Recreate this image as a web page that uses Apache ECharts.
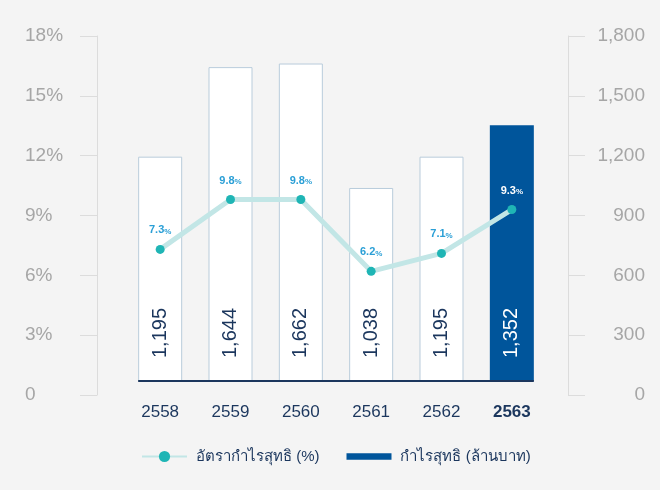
<!DOCTYPE html>
<html>
<head>
<meta charset="utf-8">
<script src="https://cdn.jsdelivr.net/npm/echarts@6/dist/echarts.min.js"></script>
<style>
  html, body { margin: 0; padding: 0; background: #f4f4f4; }
  #main { width: 660px; height: 490px; }
</style>
</head>
<body>
<div id="main"></div>
<script>
// ข้อมูล
var years = ['2558', '2559', '2560', '2561', '2562', '2563'];
var profit = [1195, 1644, 1662, 1038, 1195, 1352];   // กำไรสุทธิ (ล้านบาท)
var margin = [7.3, 9.8, 9.8, 6.2, 7.1, 9.3];         // อัตรากำไรสุทธิ (%)
var pctTicks = [0, 18, 3];
var amtTicks = [0, 1800, 300];

var bg = '#f4f4f4';
var navy = '#1b365d';
var blue = '#00559b';
var font = '"Liberation Sans", Arial, sans-serif';

var myChart = echarts.init(document.getElementById('main'));

var barData = profit.map(function (v, i) {
    if (i === profit.length - 1) {
        return { value: v, label: { color: '#ffffff' } };
    }
    return { value: v, itemStyle: { color: '#ffffff', borderColor: '#b9ccdb', borderWidth: 1 } };
});
var lineData = margin.map(function (v, i) {
    if (i === margin.length - 1) {
        return { value: v, label: { rich: { v: { color: '#ffffff' }, p: { color: '#ffffff' } } } };
    }
    return v;
});

var option = {
    backgroundColor: bg,
    textStyle: { fontFamily: font },
    grid: { left: 125, right: 113, top: 36, bottom: 95 },
    legend: {
        left: 136,
        top: 444,
        itemWidth: 45,
        itemHeight: 14,
        itemGap: 27,
        textStyle: { color: navy, fontSize: 15, padding: [0, 0, 0, 4] },
        data: [
            { name: 'อัตรากำไรสุทธิ (%)' },
            { name: 'กำไรสุทธิ (ล้านบาท)', icon: 'path://M0,0H42V6H0Z' }
        ]
    },
    xAxis: {
        type: 'category',
        data: years,
        axisLine: { show: false },
        axisTick: { show: false },
        axisLabel: {
            interval: 0,
            margin: 9,
            fontSize: 17,
            color: navy,
            formatter: function (v) {
                return v === years[years.length - 1] ? '{b|' + v + '}' : v;
            },
            rich: { b: { fontSize: 17, fontWeight: 'bold', color: navy } }
        }
    },
    yAxis: [
        {
            type: 'value',
            min: pctTicks[0], max: pctTicks[1], interval: pctTicks[2],
            position: 'left',
            offset: 28,
            splitLine: { show: false },
            axisLine: { show: true, lineStyle: { color: '#dcdcdc' } },
            axisTick: { show: true, length: 17, lineStyle: { color: '#dcdcdc' } },
            axisLabel: {
                align: 'left',
                margin: 72,
                fontSize: 19,
                color: '#a6a6a6',
                formatter: function (v) { return v === 0 ? '0' : v + '%'; }
            }
        },
        {
            type: 'value',
            min: amtTicks[0], max: amtTicks[1], interval: amtTicks[2],
            position: 'right',
            offset: 21,
            splitLine: { show: false },
            axisLine: { show: true, lineStyle: { color: '#dcdcdc' } },
            axisTick: { show: true, length: 17, lineStyle: { color: '#dcdcdc' } },
            axisLabel: {
                align: 'right',
                margin: 77,
                fontSize: 19,
                color: '#a6a6a6',
                formatter: function (v) { return v.toLocaleString('en-US'); }
            }
        }
    ],
    series: [
        {
            name: 'กำไรสุทธิ (ล้านบาท)',
            type: 'bar',
            yAxisIndex: 1,
            barWidth: 44,
            itemStyle: { color: blue },
            label: {
                show: true,
                position: 'insideBottom',
                distance: 37,
                rotate: 90,
                align: 'left',
                verticalAlign: 'middle',
                fontSize: 20,
                color: navy,
                formatter: function (p) { return p.value.toLocaleString('en-US'); }
            },
            data: barData
        },
        {
            name: 'อัตรากำไรสุทธิ (%)',
            type: 'line',
            yAxisIndex: 0,
            symbol: 'circle',
            symbolSize: 9,
            z: 5,
            lineStyle: { color: '#c2e6e6', width: 5 },
            itemStyle: { color: '#1fb5b5' },
            label: {
                show: true,
                position: 'top',
                distance: 9,
                formatter: function (p) { return '{v|' + p.value + '}{p|%}'; },
                rich: {
                    v: { fontSize: 11, fontWeight: 'bold', color: '#2a9fd6' },
                    p: { fontSize: 8, fontWeight: 'bold', color: '#2a9fd6', padding: [2, 0, 0, 0] }
                }
            },
            data: lineData
        }
    ]
};

myChart.setOption(option);

// เส้นฐานแกน X และตัดฐานแท่งกราฟ
var half = 22;
var x0 = myChart.convertToPixel({ xAxisIndex: 0 }, years[0]) - half;
var x1 = myChart.convertToPixel({ xAxisIndex: 0 }, years[years.length - 1]) + half;
var yZero = myChart.convertToPixel({ yAxisIndex: 1 }, 0);
var yBase = yZero - 14;
myChart.setOption({
    graphic: [
        {
            type: 'rect', z: 100,
            shape: { x: 100, y: yBase, width: 460, height: yZero - yBase + 1 },
            style: { fill: bg }
        },
        {
            type: 'line', z: 101,
            shape: { x1: x0, y1: yBase, x2: x1, y2: yBase },
            style: { stroke: navy, lineWidth: 2 }
        }
    ]
});
</script>
</body>
</html>
